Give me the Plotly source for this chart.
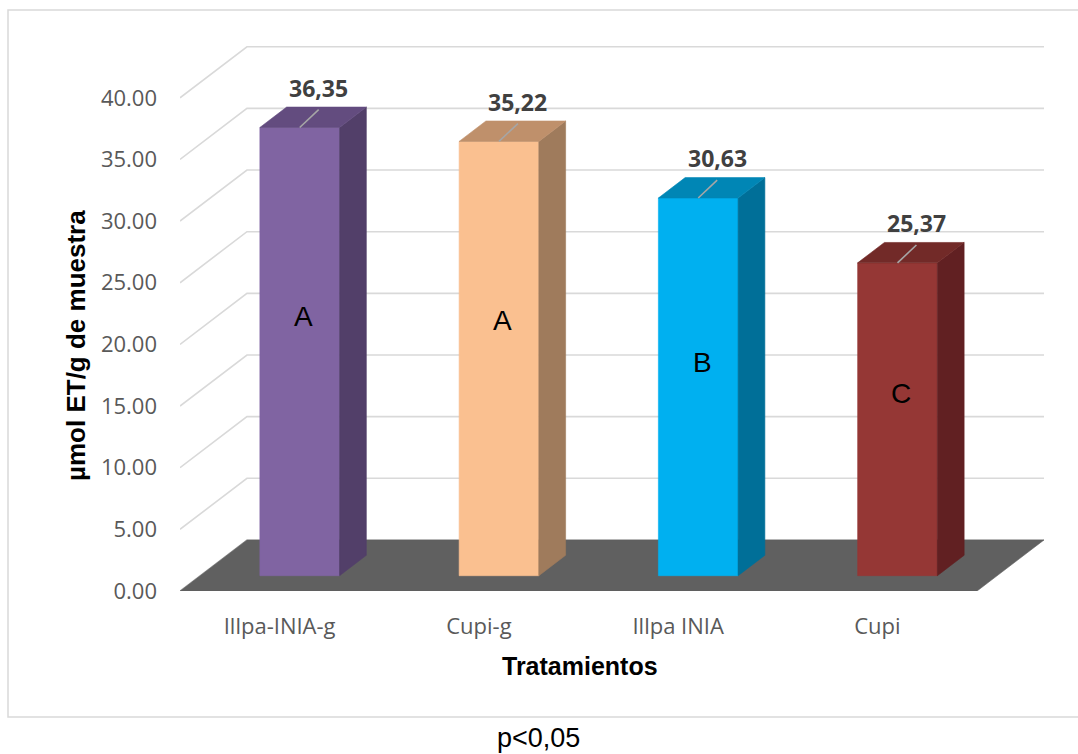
import plotly.graph_objects as go

# ---- data ----
categories = ["Illpa-INIA-g", "Cupi-g", "Illpa INIA", "Cupi"]
values = [36.35, 35.22, 30.63, 25.37]
value_labels = ["36,35", "35,22", "30,63", "25,37"]
groups = ["A", "A", "B", "C"]
y_ticks = [0, 5, 10, 15, 20, 25, 30, 35, 40]

# ---- styling ----
front_colors = ["#8064A2", "#FAC090", "#00B0F0", "#953735"]
side_colors = ["#523F69", "#9F7B5C", "#006F98", "#612022"]
top_colors = ["#634C7F", "#BF906B", "#0086B5", "#722A28"]
FLOOR = "#606060"
GRID = "#D9D9D9"

# ---- layout geometry (pixels) ----
W, H = 1078, 754
L_PX, R_PX = 180, 1044
T_PX, B_PX = 40, 591
PX_PER_VAL = 12.33

# oblique depth offset of the box, in axis units
DEPTH_X = 0.336
DEPTH_Y = 4.14
X_MAX = len(categories) + DEPTH_X
Y_MAX = (B_PX - T_PX) / PX_PER_VAL

# bar footprint: half width along x, depth slab
HALF_W = 0.2
Z0, Z1 = 0.3, 0.7

# letter placement inside each bar (value units, front face)
letter_y = [22.3, 21.9, 18.5, 16.0]


def paper_x(px):
    return (px - L_PX) / (R_PX - L_PX)


def paper_y(py):
    return (B_PX - py) / (B_PX - T_PX)


def poly(xs, ys, color):
    return go.Scatter(
        x=xs + [xs[0]], y=ys + [ys[0]], mode="lines", fill="toself",
        fillcolor=color, line=dict(color=color, width=0.6),
        hoverinfo="skip", showlegend=False,
    )


fig = go.Figure()

# side wall and back wall gridlines
for v in y_ticks:
    fig.add_trace(go.Scatter(
        x=[0, DEPTH_X, len(categories) + DEPTH_X],
        y=[v, v + DEPTH_Y, v + DEPTH_Y],
        mode="lines", line=dict(color=GRID, width=1.6),
        hoverinfo="skip", showlegend=False,
    ))

# floor
n = len(categories)
fig.add_trace(poly([0, n, n + DEPTH_X, DEPTH_X], [0, 0, DEPTH_Y, DEPTH_Y], FLOOR))

annotations = []
for i, v in enumerate(values):
    cx = i + 0.5
    xl0 = cx - HALF_W + Z0 * DEPTH_X
    xr0 = cx + HALF_W + Z0 * DEPTH_X
    xl1 = cx - HALF_W + Z1 * DEPTH_X
    xr1 = cx + HALF_W + Z1 * DEPTH_X
    yb0, yb1 = Z0 * DEPTH_Y, Z1 * DEPTH_Y
    # front face
    fig.add_trace(poly([xl0, xr0, xr0, xl0], [yb0, yb0, v + yb0, v + yb0], front_colors[i]))
    # right side face
    fig.add_trace(poly([xr0, xr1, xr1, xr0], [yb0, yb1, v + yb1, v + yb0], side_colors[i]))
    # top face
    fig.add_trace(poly([xl0, xr0, xr1, xl1], [v + yb0, v + yb0, v + yb1, v + yb1], top_colors[i]))

    # value label with leader line
    fx = cx + Z0 * DEPTH_X
    lx, ly = fx + 0.095, v + yb0 + 1.45
    fig.add_trace(go.Scatter(
        x=[fx, lx], y=[v + yb0, ly], mode="lines",
        line=dict(color="#A6A6A6", width=1.6),
        hoverinfo="skip", showlegend=False,
    ))
    annotations.append(dict(
        x=lx, y=ly, xref="x", yref="y", text=value_labels[i],
        showarrow=False, xanchor="center", yanchor="bottom", yshift=4,
        font=dict(family="Open Sans", size=23, color="#404040", weight="bold"),
    ))
    # significance letter
    annotations.append(dict(
        x=fx + 0.02, y=letter_y[i], xref="x", yref="y", text=groups[i],
        showarrow=False, xanchor="center", yanchor="middle",
        font=dict(family="Arial, Liberation Sans", size=28, color="#000000"),
    ))

# axis titles and footnote
annotations.append(dict(
    x=paper_x(580), y=paper_y(666), xref="paper", yref="paper",
    text="<b>Tratamientos</b>", showarrow=False,
    xanchor="center", yanchor="middle",
    font=dict(family="Arial, Liberation Sans", size=25, color="#000000"),
))
annotations.append(dict(
    x=paper_x(76), y=paper_y(346), xref="paper", yref="paper",
    text="<b>µmol ET/g de muestra</b>", showarrow=False, textangle=-90,
    xanchor="center", yanchor="middle",
    font=dict(family="Arial, Liberation Sans", size=26, color="#000000"),
))
annotations.append(dict(
    x=paper_x(538), y=paper_y(738), xref="paper", yref="paper",
    text="p<0,05", showarrow=False,
    xanchor="center", yanchor="middle",
    font=dict(family="Arial, Liberation Sans", size=27, color="#000000"),
))

fig.update_layout(
    width=W, height=H,
    margin=dict(l=L_PX, r=W - R_PX, t=T_PX, b=H - B_PX),
    paper_bgcolor="white", plot_bgcolor="white",
    annotations=annotations,
    shapes=[dict(
        type="rect", xref="paper", yref="paper",
        x0=paper_x(8), x1=paper_x(1095), y0=paper_y(717), y1=paper_y(10),
        line=dict(color="#D9D9D9", width=1.5), layer="below",
    )],
    xaxis=dict(
        range=[0, X_MAX], showgrid=False, zeroline=False, showline=False,
        tickvals=[i + 0.5 for i in range(n)], ticktext=categories,
        ticks="", ticklabelstandoff=20,
        tickfont=dict(family="Open Sans", size=22, color="#595959"),
        fixedrange=True,
    ),
    yaxis=dict(
        range=[0, Y_MAX], showgrid=False, zeroline=False, showline=False,
        tickvals=y_ticks, ticktext=[f"{t:.2f}" for t in y_ticks],
        ticks="", ticklabelstandoff=22,
        tickfont=dict(family="Open Sans", size=22, color="#595959"),
        fixedrange=True,
    ),
)

fig.write_html("out.html")
